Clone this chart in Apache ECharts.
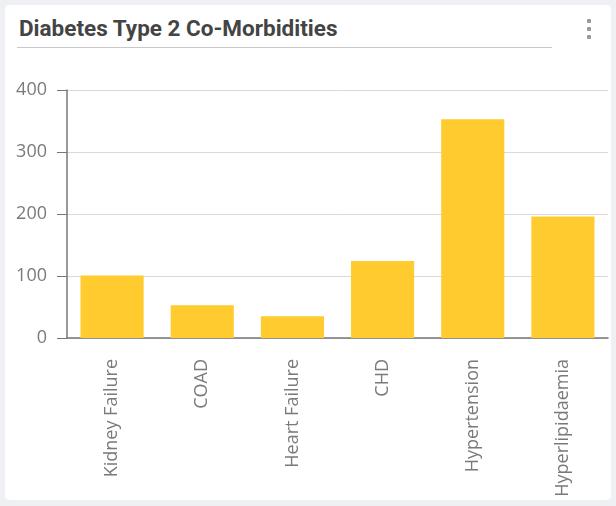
<!DOCTYPE html>
<html>
<head>
<meta charset="utf-8">
<script src="https://cdn.jsdelivr.net/npm/echarts@6/dist/echarts.min.js"></script>
<style>
  html, body { margin:0; padding:0; width:616px; height:506px; background:#eef0f3; overflow:hidden; }
  #card { position:absolute; left:5px; top:5px; width:606px; height:495px; background:#fff; border-radius:4px; }
  #title { position:absolute; left:19px; top:14px; line-height:28px; font-family:Roboto, sans-serif; font-weight:700; font-size:22.5px; color:#444; white-space:nowrap; }
  #rule { position:absolute; left:17px; top:47px; width:535px; height:0; border-top:1.5px solid #c8c8c8; }
  .dot { position:absolute; left:587px; width:4px; height:4px; border-radius:1px; background:#9a9a9a; }
  #chart { position:absolute; left:0; top:0; width:616px; height:506px; }
</style>
</head>
<body>
<div id="card"></div>
<div id="title">Diabetes Type 2 Co-Morbidities</div>
<div id="rule"></div>
<div class="dot" style="top:19px"></div>
<div class="dot" style="top:27px"></div>
<div class="dot" style="top:35px"></div>
<div id="chart"></div>
<script>
const categories = ['Kidney Failure', 'COAD', 'Heart Failure', 'CHD', 'Hypertension', 'Hyperlipidaemia'];
const patientCounts = [101, 53, 35, 124, 353, 196];
const yTicks = [0, 100, 200, 300, 400];

const chart = echarts.init(document.getElementById('chart'), null, { renderer: 'canvas' });
chart.setOption({
  animation: false,
  backgroundColor: 'transparent',
  grid: { left: 67, right: 8, top: 90, bottom: 168, containLabel: false },
  xAxis: {
    type: 'category',
    data: categories,
    axisLine: { lineStyle: { color: '#777', width: 1.5 } },
    axisTick: { length: 10, lineStyle: { color: '#777' } },
    axisLabel: { rotate: 90, margin: 21, color: '#7a7a7a', fontFamily: 'Open Sans', fontSize: 18 }
  },
  yAxis: {
    type: 'value',
    min: yTicks[0],
    max: yTicks[yTicks.length - 1],
    interval: 100,
    axisLine: { show: true, lineStyle: { color: '#777', width: 1.5 } },
    axisTick: { show: true, length: 10, lineStyle: { color: '#777' } },
    axisLabel: { margin: 20, color: '#7a7a7a', fontFamily: 'Open Sans', fontSize: 18 },
    splitLine: { lineStyle: { color: '#d9d9d9' } }
  },
  series: [{
    type: 'bar',
    data: patientCounts,
    barCategoryGap: '30%',
    itemStyle: { color: '#FFCB2E' }
  }]
});
</script>
</body>
</html>
